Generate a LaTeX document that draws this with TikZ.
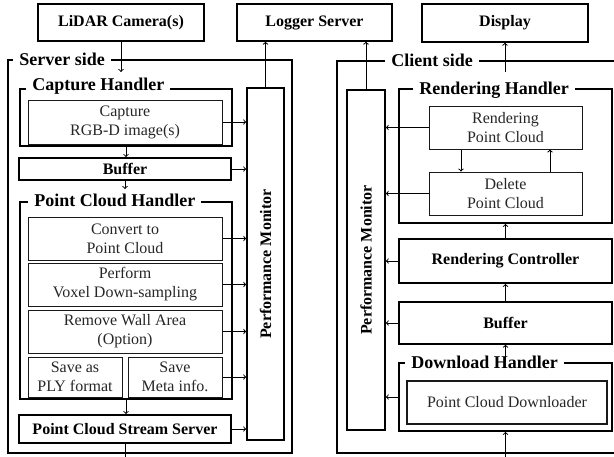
\documentclass[tikz,border=0pt]{standalone}
\usepackage{fontspec}
\setmainfont{Liberation Serif}
\usepackage{tikz}
\usetikzlibrary{arrows,positioning}

\newcommand{\boxbf}{\bfseries\fontsize{16}{19}\selectfont}
\newcommand{\boxrm}{\fontsize{16}{19}\selectfont}
\newcommand{\framebf}{\bfseries\fontsize{18}{20}\selectfont}

\tikzset{
  outbox/.style={draw, line width=1.4pt, font=\boxbf, inner sep=0pt},
  frame/.style={draw, line width=1.8pt, inner sep=0pt},
  flabel/.style={fill=white, font=\framebf, inner xsep=6pt, inner ysep=1pt, anchor=base west},
  procbox/.style={draw=black!90, line width=1pt, align=center, font=\boxrm, text=black!85, inner sep=0pt},
  boldbox/.style={draw, line width=1.8pt, font=\boxbf, inner sep=0pt},
  monbox/.style={draw, line width=1.6pt, inner sep=0pt},
  conn/.style={->, line width=1pt}
}

\begin{document}
\begin{tikzpicture}[x=1pt, y=-1pt, >=to]
\clip (0,0) rectangle (614,456);

% outside
\node[outbox, minimum width=166pt, minimum height=37pt] (lidar) at (121,22.5) {LiDAR Camera(s)};
\node[outbox, minimum width=155pt, minimum height=37pt] (logger) at (314.5,22.5) {Logger Server};
\node[outbox, minimum width=166pt, minimum height=38pt] (display) at (505,23) {Display};

% server side
\node[frame, minimum width=284pt, minimum height=393pt] (srv) at (150,256.5) {};
\node[flabel] (srvl) at ([shift={(6pt,-6pt)}]srv.north west) {Server side};

\node[frame, minimum width=212pt, minimum height=57pt] (caph) at (126,117.5) {};
\node[flabel] (caphl) at ([shift={(7pt,-2pt)}]caph.north west) {Capture Handler};
\node[procbox, minimum width=194pt, minimum height=44pt] (capture) at (125,122) {Capture\\RGB-D image(s)};

\node[boldbox, minimum width=212pt, minimum height=22pt] (bufs) at (125,169) {Buffer};

\node[frame, minimum width=212pt, minimum height=197pt] (pch) at (126,300.5) {};
\node[flabel] (pchl) at ([shift={(9pt,-5pt)}]pch.north west) {Point Cloud Handler};
\node[procbox, minimum width=194pt, minimum height=43pt] (convert) at (125,238.5) {Convert to\\Point Cloud};
\node[procbox, minimum width=194pt, minimum height=43pt] (voxel) at (125,284.5) {Perform\\Voxel Down-sampling};
\node[procbox, minimum width=194pt, minimum height=43pt] (wall) at (125,331.5) {Remove Wall Area\\(Option)};
\node[procbox, minimum width=94pt, minimum height=40pt] (ply) at (75,377) {Save as\\PLY format};
\node[procbox, minimum width=94pt, minimum height=40pt] (meta) at (175,377) {Save\\Meta info.};

\node[boldbox, minimum width=212pt, minimum height=28pt] (pcss) at (125,429) {Point Cloud Stream Server};

\node[monbox, minimum width=37pt, minimum height=352pt] (pms) at (265.5,264) {};
\node[rotate=90, font=\boxbf] (pmsl) at (pms.center) {Performance Monitor};

% client side
\node[frame, minimum width=283pt, minimum height=392pt] (cli) at (478.5,257) {};
\node[flabel] (clil) at ([shift={(49pt,-6pt)}]cli.north west) {Client side};

\node[monbox, minimum width=38pt, minimum height=340pt] (pmc) at (366,260) {};
\node[rotate=90, font=\boxbf] (pmcl) at (pmc.center) {Performance Monitor};

\node[frame, minimum width=213pt, minimum height=134pt] (rh) at (505.5,156) {};
\node[flabel] (rhl) at ([shift={(15pt,-6pt)}]rh.north west) {Rendering Handler};
\node[procbox, minimum width=153pt, minimum height=43pt] (rpc) at (505.5,127.5) {Rendering\\Point Cloud};
\node[procbox, minimum width=153pt, minimum height=43pt] (delete) at (505.5,193.5) {Delete\\Point Cloud};

\node[boldbox, minimum width=213pt, minimum height=44pt] (rc) at (505.5,261) {Rendering Controller};
\node[outbox, minimum width=213pt, minimum height=42pt] (bufc) at (505.5,323) {Buffer};

\node[frame, minimum width=213pt, minimum height=68pt] (dh) at (505.5,397) {};
\node[flabel] (dhl) at ([shift={(7pt,-6pt)}]dh.north west) {Download Handler};
\node[procbox, line width=1.6pt, minimum width=200pt, minimum height=43pt] (pcd) at (507,402.5) {Point Cloud Downloader};

% free ends
\coordinate (camin) at (121,72);
\coordinate (pchin) at (125,189);
\coordinate (dispout) at (505,72);
\coordinate (srvout) at (125,458);
\coordinate (cliin) at (505.5,458);

% server arrows
\draw[conn] (lidar.south) -- (camin);
\draw[conn] (pms.north) -- (pms.north |- logger.south);
\draw[conn] (caph.south) -- (caph.south |- bufs.north);
\draw[conn] (bufs.south) -- (pchin);
\draw[conn] (pch.south) -- (pch.south |- pcss.north);
\draw[line width=1pt] (pcss.south) -- (srvout);
\draw[conn] (capture.east) -- (capture.east -| pms.west);
\draw[conn] (bufs.east) -- (bufs.east -| pms.west);
\draw[conn] (convert.east) -- (convert.east -| pms.west);
\draw[conn] (voxel.east) -- (voxel.east -| pms.west);
\draw[conn] (wall.east) -- (wall.east -| pms.west);
\draw[conn] (meta.east) -- (meta.east -| pms.west);
\draw[conn] (pcss.east) -- (pcss.east -| pms.west);

% client arrows
\draw[conn] (pmc.north) -- (pmc.north |- logger.south);
\draw[conn] (dispout) -- (display.south);
\draw[conn] ([xshift=-44.5pt]rpc.south) -- ([xshift=-44.5pt]delete.north);
\draw[conn] ([xshift=44.5pt]delete.north) -- ([xshift=44.5pt]rpc.south);
\draw[conn] (rc.north) -- (rh.south);
\draw[conn] (bufc.north) -- (rc.south);
\draw[conn] (dh.north) -- (bufc.south);
\draw[conn] (cliin) -- (dh.south);
\draw[conn] (rpc.west) -- (rpc.west -| pmc.east);
\draw[conn] (delete.west) -- (delete.west -| pmc.east);
\draw[conn] (rc.west) -- (rc.west -| pmc.east);
\draw[conn] (bufc.west) -- (bufc.west -| pmc.east);
\draw[conn] (dh.west) -- (dh.west -| pmc.east);

\end{tikzpicture}
\end{document}
